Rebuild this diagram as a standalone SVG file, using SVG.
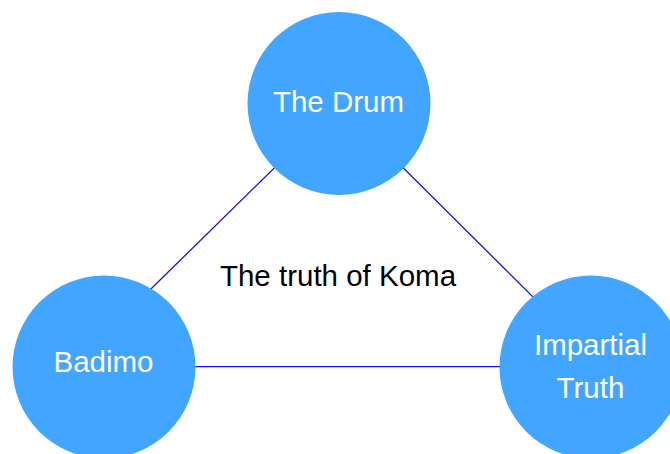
<svg xmlns="http://www.w3.org/2000/svg" width="670" height="454" viewBox="0 0 670 454">
  <style>
    .edge { stroke: #1212e8; stroke-width: 1.3; fill: none; }
    .node { fill: #42a5ff; }
    .label { font-family: "Liberation Sans", Arial, sans-serif; font-size: 29.5px; fill: #ffffff; text-anchor: middle; }
    .title { font-family: "Liberation Sans", Arial, sans-serif; font-size: 29.5px; fill: #000000; text-anchor: middle; }
  </style>
  <rect width="670" height="454" fill="#ffffff"/>
  <!-- connectors run from the centre of The Drum and disappear under the other circles -->
  <g id="edges">
    <line class="edge" x1="339" y1="104.5" x2="145" y2="294.8"/>
    <line class="edge" x1="339" y1="104" x2="545" y2="308.9"/>
    <line class="edge" x1="104" y1="366.7" x2="591" y2="366.7"/>
  </g>
  <text class="title" x="338" y="286">The truth of Koma</text>
  <g id="node-drum">
    <circle class="node" cx="339" cy="103.5" r="91.5"/>
    <text class="label" x="338.5" y="112">The Drum</text>
  </g>
  <g id="node-badimo">
    <circle class="node" cx="104" cy="367" r="91.5"/>
    <text class="label" x="103.5" y="372">Badimo</text>
  </g>
  <g id="node-impartial">
    <circle class="node" cx="591" cy="367" r="91.5"/>
    <text class="label" x="590.5" y="355">Impartial</text>
    <text class="label" x="590.5" y="397.5">Truth</text>
  </g>
</svg>
